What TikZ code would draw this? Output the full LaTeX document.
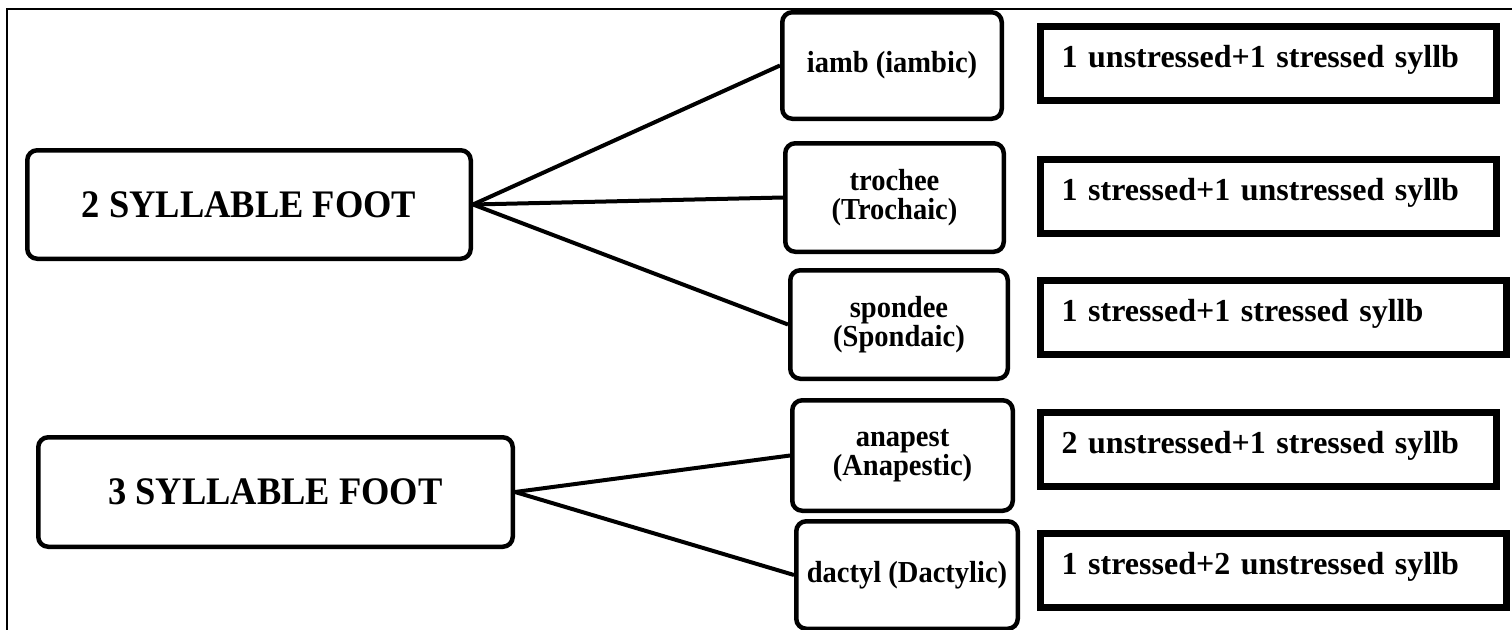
\documentclass[tikz,border=0pt]{standalone}
\usepackage{fontspec}
\setmainfont{Liberation Serif}
\newfontfamily\condserif[FakeStretch=0.935]{Liberation Serif}
\begin{document}
\begin{tikzpicture}[x=1pt,y=-1pt,
  mainbox/.style={draw, line width=4.5pt, rounded corners=10pt, inner sep=0pt,
    font=\condserif\fontsize{39}{42}\selectfont\bfseries, align=center},
  footbox/.style={draw, line width=4.5pt, rounded corners=10pt, inner sep=0pt,
    font=\condserif\fontsize{30.5}{29}\selectfont\bfseries, align=center},
  descbox/.style={draw, line width=7pt, anchor=north west, outer sep=0pt,
    inner xsep=21pt, inner ysep=0pt,
    text height=41pt, text depth=33pt, align=left,
    font=\fontsize{32}{34}\selectfont\bfseries},
  link/.style={line width=4pt}]
\clip (0,0) rectangle (1512,629);
\fill[white] (0,0) rectangle (1512,629);
\draw[line width=2pt] (7,640) -- (7,9) -- (1520,9);

\node[mainbox, minimum width=443.5pt, minimum height=108.5pt] (two) at (249,204.5) {2 SYLLABLE FOOT};
\node[mainbox, minimum width=474.5pt, minimum height=109.5pt] (three) at (275.5,492) {3 SYLLABLE FOOT};

\node[footbox, minimum width=219.5pt, minimum height=106.5pt] (iamb) at (892,65.5) {iamb (iambic)};
\node[footbox, minimum width=218.5pt, minimum height=108.5pt] (trochee) at (894.5,197.5) {trochee\\(Trochaic)};
\node[footbox, minimum width=217.5pt, minimum height=108.5pt] (spondee) at (899,324.5) {spondee\\(Spondaic)};
\node[footbox, minimum width=220.5pt, minimum height=110.5pt] (anapest) at (902.5,455.5) {anapest\\(Anapestic)};
\node[footbox, minimum width=221.5pt, minimum height=107.5pt] (dactyl) at (907,575) {dactyl (Dactylic)};

\node[descbox, text width=414pt] (d1) at (1040.5,26.5) {1 unstressed+1 stressed syllb};
\node[descbox, text width=414pt] (d2) at (1040.5,159.5) {1 stressed+1 unstressed syllb};
\node[descbox, text width=424pt] (d3) at (1040.5,280.5) {1 stressed+1 stressed syllb};
\node[descbox, text width=414pt] (d4) at (1040.5,412.5) {2 unstressed+1 stressed syllb};
\node[descbox, text width=424pt] (d5) at (1040.5,533.5) {1 stressed+2 unstressed syllb};

\draw[link] (two.east) -- (iamb.west);
\draw[link] (two.east) -- (trochee.west);
\draw[link] (two.east) -- (spondee.west);
\draw[link] (three.east) -- (anapest.west);
\draw[link] (three.east) -- (dactyl.west);
\end{tikzpicture}
\end{document}
